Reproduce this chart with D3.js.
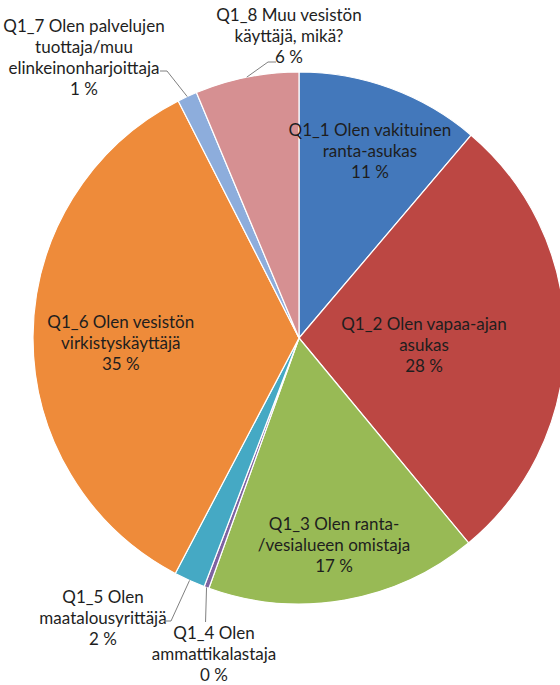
<!DOCTYPE html>
<html lang="fi">
<head>
<meta charset="utf-8">
<style>
body { margin: 0; background: #fff; }
svg text { font-family: Lato, "Open Sans", sans-serif; font-size: 17px; fill: #1e1e1e; }
</style>
</head>
<body>
<script src="https://d3js.org/d3.v7.min.js"></script>
<svg id="chart" width="560" height="685"></svg>
<script>
// data (label shows the rounded share)
var categories = ["Q1_1", "Q1_2", "Q1_3", "Q1_4", "Q1_5", "Q1_6", "Q1_7", "Q1_8"];
var labelLines = [
  ["Q1_1 Olen vakituinen", "ranta-asukas"],
  ["Q1_2 Olen vapaa-ajan", "asukas"],
  ["Q1_3 Olen ranta-", "/vesialueen omistaja"],
  ["Q1_4 Olen", "ammattikalastaja"],
  ["Q1_5 Olen", "maatalousyrittäjä"],
  ["Q1_6 Olen vesistön", "virkistyskäyttäjä"],
  ["Q1_7 Olen palvelujen", "tuottaja/muu", "elinkeinonharjoittaja"],
  ["Q1_8 Muu vesistön", "käyttäjä, mikä?"]
];
var shares = [11.2, 27.8, 16.5, 0.3, 1.9, 34.8, 1.2, 6.3];
var pctLabels = ["11 %", "28 %", "17 %", "0 %", "2 %", "35 %", "1 %", "6 %"];
var colors = ["#4378BB", "#BC4743", "#98BA55", "#7E62A1", "#45A9C4", "#EE8B3A", "#8DADDC", "#D69092"];

var svg = d3.select("#chart"),
    cx = 299, cy = 338, radius = 266, lineH = 21;

var pie = d3.pie().sort(null).value(function(d) { return d; });
var arc = d3.arc().innerRadius(0).outerRadius(radius);
var arcs = pie(shares);

var g = svg.append("g").attr("transform", "translate(" + cx + "," + cy + ")");

g.selectAll("path.slice")
    .data(arcs)
  .enter().append("path")
    .attr("class", "slice")
    .attr("d", arc)
    .attr("fill", function(d, i) { return colors[i]; })
    .attr("stroke", "#fff")
    .attr("stroke-width", 1.2);

// inside labels sit on the mid angle at a fraction of the radius,
// outside ones are where Excel put them, with a leader line
var inside = { 0: 0.774, 1: 0.47, 2: 0.767, 5: 0.67 };
var outside = {
  3: { x: 214, y: 639 },
  4: { x: 103, y: 603 },
  6: { x: 84, y: 32 },
  7: { x: 289, y: 21 }
};

function midAngle(d) { return (d.startAngle + d.endAngle) / 2; }
function polar(a, r) { return [r * Math.sin(a), -r * Math.cos(a)]; }

arcs.forEach(function(d, i) {
  var lines = labelLines[i].concat([pctLabels[i]]);
  var x, y;
  if (inside[i] !== undefined) {
    var p = polar(midAngle(d), radius * inside[i]);
    x = cx + p[0];
    y = cy + p[1] - (lines.length - 1) * lineH / 2 + 12;
  } else {
    x = outside[i].x;
    y = outside[i].y;
  }
  var t = svg.append("text").attr("text-anchor", "middle");
  lines.forEach(function(s, k) {
    t.append("tspan").attr("x", x).attr("y", y + k * lineH).text(s);
  });
});

// leader lines: short stub by the text, then to the slice edge
function edgePoint(i) {
  var p = polar(midAngle(arcs[i]), radius);
  return [cx + p[0], cy + p[1]];
}
var stubs = { 7: [[276, 62], [268, 62]], 6: [[160, 71], [167, 71]], 4: [[164, 621], [171, 621]] };
var line = d3.line();
Object.keys(stubs).forEach(function(i) {
  svg.append("path")
    .attr("d", line(stubs[i].concat([edgePoint(+i)])))
    .attr("fill", "none")
    .attr("stroke", "#808080");
});
var e3 = edgePoint(3);
svg.append("path")
  .attr("d", line([e3, [e3[0] - 1, 622]]))
  .attr("fill", "none")
  .attr("stroke", "#808080");
</script>
</body>
</html>
